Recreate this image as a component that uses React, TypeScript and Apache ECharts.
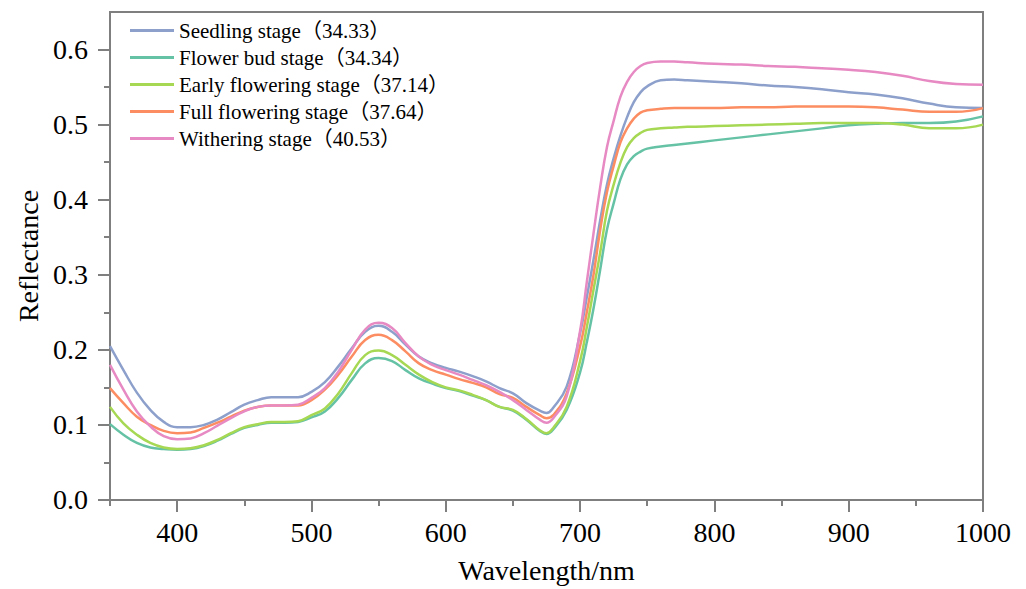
import React, { useEffect, useRef } from "react";
import * as echarts from "echarts";

const wavelengths = [
  350, 360, 370, 380, 390, 400, 410, 420, 430, 440, 450, 460, 470, 480, 490, 500,
  510, 520, 530, 540, 550, 560, 570, 580, 590, 600, 610, 620, 630, 640, 650, 660,
  670, 675, 680, 690, 700, 705, 710, 715, 720, 725, 730, 735, 740, 745, 750, 760,
  770, 780, 800, 820, 840, 860, 880, 900, 920, 940, 960, 980, 1000,
];

const seedling = [
  0.205, 0.173, 0.143, 0.12, 0.104, 0.097, 0.097, 0.1, 0.107, 0.117, 0.127, 0.133, 0.137, 0.137, 0.137, 0.144,
  0.157, 0.178, 0.202, 0.224, 0.232, 0.224, 0.207, 0.191, 0.182, 0.176, 0.171, 0.165, 0.158, 0.149, 0.142, 0.129,
  0.119, 0.116, 0.123, 0.151, 0.222, 0.27, 0.32, 0.373, 0.42, 0.455, 0.485, 0.51, 0.53, 0.543, 0.551, 0.559,
  0.56, 0.559, 0.557, 0.555, 0.552, 0.55, 0.547, 0.543, 0.54, 0.535, 0.528, 0.523, 0.522,
];

const flowerBud = [
  0.101, 0.087, 0.076, 0.07, 0.068, 0.067, 0.068, 0.072, 0.079, 0.088, 0.096, 0.1, 0.103, 0.103, 0.104, 0.11,
  0.118, 0.136, 0.16, 0.182, 0.189, 0.185, 0.173, 0.162, 0.155, 0.149, 0.145, 0.139, 0.133, 0.124, 0.119, 0.107,
  0.092, 0.088, 0.094, 0.12, 0.17, 0.21, 0.255, 0.307, 0.36, 0.395, 0.427, 0.447, 0.458, 0.464, 0.468, 0.471,
  0.473, 0.475, 0.479, 0.483, 0.487, 0.491, 0.495, 0.499, 0.501, 0.502, 0.502, 0.504, 0.511,
];

const earlyFlowering = [
  0.124, 0.102, 0.087, 0.076, 0.07, 0.068, 0.069, 0.073, 0.08, 0.089, 0.097, 0.101, 0.104, 0.104, 0.105, 0.113,
  0.122, 0.142, 0.169, 0.193, 0.199, 0.193, 0.18, 0.167, 0.157, 0.15, 0.146, 0.14, 0.133, 0.124, 0.12, 0.108,
  0.093, 0.089, 0.096, 0.124, 0.185, 0.23, 0.28, 0.33, 0.385, 0.42, 0.449, 0.47, 0.482, 0.489, 0.493, 0.495,
  0.496, 0.497, 0.498, 0.499, 0.5, 0.501, 0.502, 0.502, 0.502, 0.5, 0.495, 0.495, 0.5,
];

const fullFlowering = [
  0.149, 0.129, 0.111, 0.1, 0.092, 0.089, 0.09, 0.096, 0.103, 0.111, 0.119, 0.124, 0.126, 0.126, 0.126, 0.133,
  0.147, 0.167, 0.191, 0.213, 0.22, 0.213, 0.198, 0.182, 0.173, 0.167, 0.161, 0.156, 0.15, 0.141, 0.136, 0.124,
  0.113, 0.109, 0.113, 0.142, 0.205, 0.25, 0.3, 0.36, 0.41, 0.445, 0.476, 0.495, 0.508, 0.516, 0.519, 0.521,
  0.522, 0.522, 0.522, 0.523, 0.523, 0.524, 0.524, 0.524, 0.523, 0.52, 0.517, 0.517, 0.522,
];

const withering = [
  0.18, 0.147, 0.118, 0.098, 0.085, 0.081, 0.082, 0.089, 0.099, 0.109, 0.118, 0.124, 0.126, 0.126, 0.127, 0.136,
  0.149, 0.171, 0.2, 0.227, 0.236, 0.229, 0.209, 0.191, 0.18, 0.173, 0.167, 0.16, 0.153, 0.144, 0.133, 0.12,
  0.107, 0.103, 0.109, 0.138, 0.225, 0.29, 0.355, 0.417, 0.47, 0.505, 0.537, 0.557, 0.57, 0.578, 0.582, 0.584,
  0.584, 0.583, 0.581, 0.58, 0.578, 0.577, 0.575, 0.573, 0.57, 0.565, 0.558, 0.554, 0.553,
];

const seriesNames = [
  "Seedling stage（34.33）",
  "Flower bud stage（34.34）",
  "Early flowering stage（37.14）",
  "Full flowering stage（37.64）",
  "Withering stage（40.53）",
];
const seriesColors = ["#8DA0CB", "#66C2A5", "#A6D854", "#FC8D62", "#E78AC3"];
const seriesValues = [seedling, flowerBud, earlyFlowering, fullFlowering, withering];

const xMajorTicks = [400, 500, 600, 700, 800, 900, 1000];
const xMinorTicks = [350, 450, 550, 650, 750, 850, 950];
const yMajorTicks = [0, 0.1, 0.2, 0.3, 0.4, 0.5, 0.6];
const yMinorTicks = [0.05, 0.15, 0.25, 0.35, 0.45, 0.55];

const FONT = "'Liberation Serif', 'Times New Roman', 'Noto Sans CJK SC', serif";
const AXIS_COLOR = "#7f7f7f";

export default function App() {
  const ref = useRef<HTMLDivElement>(null);

  useEffect(() => {
    if (!ref.current) return;
    const chart = echarts.init(ref.current, undefined, { renderer: "svg" });
    const axisLine = { show: true, lineStyle: { color: AXIS_COLOR, width: 2 } };
    chart.setOption({
      animation: false,
      backgroundColor: "#ffffff",
      grid: {
        left: 110,
        right: 43,
        top: 12,
        bottom: 89,
        show: true,
        borderColor: AXIS_COLOR,
        borderWidth: 2,
        containLabel: false,
      },
      legend: {
        orient: "vertical",
        left: 125,
        top: 15,
        icon: "rect",
        itemWidth: 44,
        itemHeight: 3,
        itemGap: 6,
        data: seriesNames,
        textStyle: {
          fontFamily: FONT,
          fontSize: 21,
          lineHeight: 21,
          color: "#000",
        },
      },
      xAxis: [
        {
          type: "value",
          min: 350,
          max: 1000,
          position: "bottom",
          name: "Wavelength/nm",
          nameLocation: "middle",
          nameGap: 56,
          nameTextStyle: { fontFamily: FONT, fontSize: 28, color: "#000" },
          axisLine,
          axisTick: {
            show: true,
            inside: false,
            length: 12,
            lineStyle: { color: AXIS_COLOR, width: 2 },
            customValues: xMajorTicks,
          },
          axisLabel: {
            fontFamily: FONT,
            fontSize: 28,
            color: "#000",
            margin: 18,
            customValues: xMajorTicks,
            formatter: (v: number) => String(v),
          },
          splitLine: { show: false },
        },
        {
          type: "value",
          min: 350,
          max: 1000,
          position: "bottom",
          axisLine: { show: false },
          axisTick: {
            show: true,
            inside: false,
            length: 6,
            lineStyle: { color: AXIS_COLOR, width: 2 },
            customValues: xMinorTicks,
          },
          axisLabel: { show: false },
          splitLine: { show: false },
        },
      ],
      yAxis: [
        {
          type: "value",
          min: 0,
          max: 0.65,
          position: "left",
          name: "Reflectance",
          nameLocation: "middle",
          nameGap: 68,
          nameTextStyle: { fontFamily: FONT, fontSize: 28, color: "#000" },
          axisLine,
          axisTick: {
            show: true,
            inside: false,
            length: 12,
            lineStyle: { color: AXIS_COLOR, width: 2 },
            customValues: yMajorTicks,
          },
          axisLabel: {
            fontFamily: FONT,
            fontSize: 28,
            color: "#000",
            margin: 22,
            customValues: yMajorTicks,
            formatter: (v: number) => v.toFixed(1),
          },
          splitLine: { show: false },
        },
        {
          type: "value",
          min: 0,
          max: 0.65,
          position: "left",
          axisLine: { show: false },
          axisTick: {
            show: true,
            inside: false,
            length: 6,
            lineStyle: { color: AXIS_COLOR, width: 2 },
            customValues: yMinorTicks,
          },
          axisLabel: { show: false },
          splitLine: { show: false },
        },
      ],
      series: seriesNames.map((name, i) => ({
        name,
        type: "line",
        xAxisIndex: 0,
        yAxisIndex: 0,
        smooth: 0.45,
        symbol: "none",
        data: wavelengths.map((w, j) => [w, seriesValues[i][j]]),
        lineStyle: { color: seriesColors[i], width: 2.5 },
        itemStyle: { color: seriesColors[i] },
      })),
    });
    return () => chart.dispose();
  }, []);

  return (
    <div
      ref={ref}
      style={{ position: "fixed", left: 0, top: 0, width: 1026, height: 589, background: "#fff" }}
    />
  );
}
